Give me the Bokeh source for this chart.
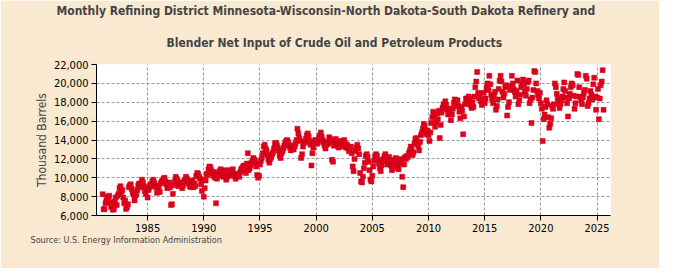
from bokeh.plotting import figure
from bokeh.models import Title, NumeralTickFormatter, FixedTicker, Range1d
from bokeh.embed import file_html
from bokeh.resources import INLINE

# Monthly net input (thousand barrels), Jan 1981 .. Aug 2025
y1981 = [8250, 6650, 6700, 7300, 7600, 8000, 7800, 8100, 7400, 6900, 7200, 6600]
y1982 = [6700, 7500, 7900, 7100, 8100, 8300, 8900, 9100, 8500, 8700, 7900, 7300]
y1983 = [7600, 6700, 6900, 7200, 9000, 9200, 9300, 8800, 8400, 8200, 7600, 8100]
y1984 = [8300, 8700, 9200, 9400, 9000, 9300, 9800, 9500, 9100, 8600, 8300, 8900]
y1985 = [7900, 8700, 9000, 9300, 9100, 9600, 9800, 9500, 9200, 9000, 8400, 9000]
y1986 = [9100, 8500, 9400, 9600, 9700, 9900, 10000, 9600, 9300, 8900, 9200, 9500]
y1987 = [9000, 7100, 7200, 8300, 9200, 9600, 10100, 9900, 9700, 9100, 9400, 9300]
y1988 = [9500, 8900, 9200, 9600, 9800, 10100, 9900, 9700, 9400, 9100, 9000, 9600]
y1989 = [9700, 9000, 9400, 9100, 10200, 10500, 10400, 10100, 9900, 9300, 8600, 9800]
y1990 = [8000, 8900, 9700, 10400, 10300, 10900, 11200, 11100, 10800, 10500, 10200, 10600]
y1991 = [10000, 7300, 9900, 10400, 10200, 10700, 10900, 10600, 10300, 10100, 10500, 10800]
y1992 = [9800, 10100, 10300, 10500, 10800, 10200, 10600, 10900, 10400, 10200, 9900, 10300]
y1993 = [10200, 10400, 10100, 10600, 10900, 11000, 11200, 11300, 10800, 10500, 11500, 12600]
y1994 = [10800, 11000, 11300, 11600, 11800, 12100, 11900, 11700, 11200, 10300, 10000, 10200]
y1995 = [11400, 11800, 12100, 12600, 13300, 13500, 13100, 12900, 12400, 11900, 11600, 12000]
y1996 = [12200, 12500, 12700, 13100, 13600, 13700, 13500, 13200, 12900, 12400, 12100, 12600]
y1997 = [12800, 13100, 13400, 13700, 13900, 14000, 13800, 13500, 13200, 12900, 13100, 13400]
y1998 = [13000, 13300, 13600, 14000, 15200, 14700, 14200, 13900, 12100, 12500, 13300, 13800]
y1999 = [13700, 14100, 14500, 14700, 14400, 13900, 13500, 11300, 12600, 13200, 13800, 14000]
y2000 = [13900, 13600, 13800, 14200, 14500, 14800, 14300, 14000, 13700, 13400, 13100, 13500]
y2001 = [13800, 13600, 14300, 14100, 13800, 11900, 11700, 13400, 13900, 14100, 13700, 13400]
y2002 = [13200, 13600, 13900, 13700, 13300, 13800, 14000, 13600, 13200, 13500, 13100, 12800]
y2003 = [13000, 13300, 12600, 11200, 10700, 12000, 12800, 13200, 13500, 13100, 12500, 10500]
y2004 = [9600, 9500, 10100, 11000, 11600, 12300, 12500, 12200, 11700, 10800, 9800, 9600]
y2005 = [10200, 11200, 11800, 12200, 12500, 12300, 11900, 11500, 11000, 10700, 11300, 11800]
y2006 = [12000, 12300, 12500, 11900, 11400, 11700, 12200, 11800, 11300, 10800, 11000, 11600]
y2007 = [11900, 12100, 11700, 11200, 10900, 11500, 12000, 11600, 10100, 9000, 11400, 12200]
y2008 = [12000, 12300, 12200, 12600, 12900, 13300, 13100, 12400, 12700, 13600, 14100, 14200]
y2009 = [13800, 13400, 12900, 13800, 14500, 14800, 15200, 15700, 15500, 15000, 14600, 15000]
y2010 = [14500, 13900, 14800, 15800, 16400, 17000, 16600, 15400, 15900, 16800, 16200, 17100]
y2011 = [14200, 15600, 16900, 17400, 17800, 17500, 18100, 17700, 17200, 16700, 16900, 17300]
y2012 = [16100, 16700, 17300, 17900, 18300, 18000, 17600, 18200, 17600, 17000, 16300, 17500]
y2013 = [17100, 14600, 16500, 17800, 18400, 18200, 17900, 18600, 18300, 17700, 17400, 18000]
y2014 = [17500, 18600, 19600, 20200, 21200, 19000, 18400, 18900, 18100, 17700, 18300, 19000]
y2015 = [17900, 18400, 19500, 20000, 19300, 20800, 19900, 18800, 18300, 17900, 18600, 19100]
y2016 = [17200, 17600, 18300, 19400, 20300, 20800, 20200, 19100, 18500, 18900, 19600, 19800]
y2017 = [16600, 17500, 18000, 19300, 19700, 20800, 20000, 19400, 19100, 18600, 19200, 20300]
y2018 = [17800, 18200, 18800, 19600, 20000, 20400, 19900, 19100, 18700, 19400, 20100, 20300]
y2019 = [17900, 18300, 15800, 18500, 19300, 21300, 21200, 20000, 19200, 18800, 18400, 19000]
y2020 = [17900, 17300, 13900, 16200, 16700, 17500, 18200, 17800, 16400, 15300, 15700, 16300]
y2021 = [17600, 17300, 17800, 20000, 19600, 18900, 18400, 17900, 17400, 17800, 18200, 18600]
y2022 = [19400, 20100, 19200, 18500, 17900, 16500, 18400, 18900, 19600, 20000, 19800, 18700]
y2023 = [17300, 17900, 18600, 21000, 20900, 19600, 18600, 18200, 17800, 18500, 19000, 19300]
y2024 = [20800, 20500, 17600, 17900, 18400, 19200, 18800, 18300, 19900, 20600, 18600, 17200]
y2025 = [18500, 19400, 16200, 18400, 19800, 20200, 21400, 17200]

years_data = [y1981, y1982, y1983, y1984, y1985, y1986, y1987, y1988, y1989, y1990,
              y1991, y1992, y1993, y1994, y1995, y1996, y1997, y1998, y1999, y2000,
              y2001, y2002, y2003, y2004, y2005, y2006, y2007, y2008, y2009, y2010,
              y2011, y2012, y2013, y2014, y2015, y2016, y2017, y2018, y2019, y2020,
              y2021, y2022, y2023, y2024, y2025]
start_year = 1981

x_ticks = [1985, 1990, 1995, 2000, 2005, 2010, 2015, 2020, 2025]
y_ticks = [6000, 8000, 10000, 12000, 14000, 16000, 18000, 20000, 22000]

title_1 = "Monthly Refining District Minnesota-Wisconsin-North Dakota-South Dakota Refinery and"
title_2 = "Blender Net Input of Crude Oil and Petroleum Products"
y_label = "Thousand Barrels"
source = "Source: U.S. Energy Information Administration"

xs, ys = [], []
for i, vals in enumerate(years_data):
    for m, v in enumerate(vals):
        xs.append(start_year + i + m / 12.0)
        ys.append(v)

FONT = "DejaVu Sans Condensed"

p = figure(frame_width=514, frame_height=151, output_backend="svg", toolbar_location=None,
           x_range=Range1d(1980.45, 2026.2), y_range=Range1d(6000, 22000),
           min_border_left=96, min_border_right=49, min_border_top=55, min_border_bottom=53)

p.border_fill_color = "#f8e9d0"
p.background_fill_color = "white"
p.outline_line_color = None

p.scatter(xs, ys, marker="square", size=5, fill_color="#e3001b", line_color="#c00018", line_width=0.5)

p.xaxis.ticker = FixedTicker(ticks=x_ticks)
p.yaxis.ticker = FixedTicker(ticks=y_ticks)
p.yaxis.formatter = NumeralTickFormatter(format="0,0")
for ax in (p.xaxis[0], p.yaxis[0]):
    ax.axis_line_color = "black"
    ax.major_tick_line_color = "black"
    ax.major_tick_out = 5
    ax.major_tick_in = 0
    ax.minor_tick_line_color = None
    ax.major_label_text_font = FONT
    ax.major_label_text_font_size = "11px"
    ax.major_label_text_color = "black"
    ax.major_label_standoff = 3
p.yaxis.axis_label = y_label
p.yaxis.axis_label_text_font = FONT
p.yaxis.axis_label_text_font_size = "12px"
p.yaxis.axis_label_text_font_style = "normal"
p.yaxis.axis_label_standoff = 2

for g in (p.xgrid[0], p.ygrid[0]):
    g.grid_line_color = "#999999"
    g.grid_line_dash = "3 2"
    g.grid_line_width = 1

# title lines (index 0 of "above" is nearest the frame)
p.add_layout(Title(text=title_2, align="left", offset=70, text_font=FONT, vertical_align="top",
                   text_font_size="12px", text_font_style="bold", standoff=26), "above")
p.add_layout(Title(text=title_1, align="left", offset=-40, text_font=FONT, vertical_align="top",
                   text_font_size="12px", text_font_style="bold", standoff=6), "above")
p.add_layout(Title(text=source, align="left", offset=-66, text_font=FONT, vertical_align="top",
                   text_font_size="9px", text_font_style="normal", standoff=0), "below")

open("out.html", "w").write(file_html(p, INLINE))
